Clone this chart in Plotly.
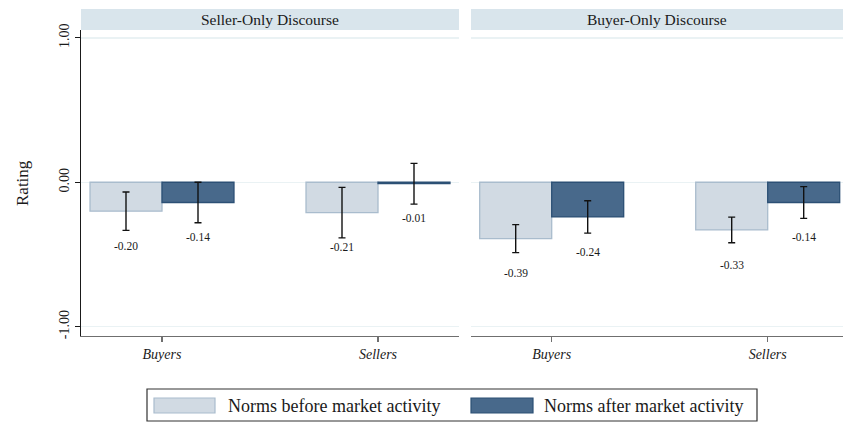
import plotly.graph_objects as go

# ---------------- data ----------------
groups = ["Buyers", "Sellers"]
panels = ["Seller-Only Discourse", "Buyer-Only Discourse"]
series = ["Norms before market activity", "Norms after market activity"]

seller_only_before = [-0.20, -0.21]
seller_only_after = [-0.14, -0.01]
seller_only_before_err = [0.133, 0.175]
seller_only_after_err = [0.140, 0.141]

buyer_only_before = [-0.39, -0.33]
buyer_only_after = [-0.24, -0.14]
buyer_only_before_err = [0.097, 0.089]
buyer_only_after_err = [0.112, 0.110]

y_ticks = [-1.0, 0.0, 1.0]
y_tick_labels = ["-1.00", "0.00", "1.00"]

# ---------------- style ----------------
W, H = 843, 424
FONT = "Liberation Serif, Times New Roman, serif"
TXT = "#1a1a1a"
fill_colors = ["#d1dae3", "#48698b"]
line_colors = ["#a9bccd", "#2c5075"]
header_fill = "#d9e5ec"
grid_col = "#eaf2f4"


def px_x(p):
    return p / W


def px_y(p):
    return 1 - p / H


fig = go.Figure()

panel_data = [
    (seller_only_before, seller_only_after, seller_only_before_err, seller_only_after_err),
    (buyer_only_before, buyer_only_after, buyer_only_before_err, buyer_only_after_err),
]

annotations = []
for pi, (bef, aft, bef_e, aft_e) in enumerate(panel_data):
    xa = "x" if pi == 0 else "x2"
    ya = "y" if pi == 0 else "y2"
    for si, (vals, errs) in enumerate([(bef, bef_e), (aft, aft_e)]):
        fig.add_trace(go.Bar(
            x=groups, y=vals, name=series[si], xaxis=xa, yaxis=ya,
            offsetgroup=str(si), showlegend=False,
            marker=dict(color=fill_colors[si], line=dict(color=line_colors[si], width=1.3)),
            error_y=dict(type="data", array=errs, visible=True, color="#111111",
                         thickness=1.4, width=3.5),
            hoverinfo="skip",
        ))
        shift = -36 if si == 0 else 36
        for g, v in zip(groups, vals):
            annotations.append(dict(
                x=g, y=v - 0.24, xref=xa, yref=ya, xshift=shift,
                xanchor="center", yanchor="middle",
                text=f"{v:.2f}", showarrow=False,
                font=dict(family=FONT, size=11.5, color=TXT),
            ))

plot_top, plot_bot = 30, 335.7
ydom = [px_y(plot_bot), px_y(plot_top)]
yrange = [-1.062, 1.054]

axis_x_common = dict(
    type="category", showline=True, linecolor="#6f6f6f", linewidth=1.5,
    ticks="outside", ticklen=5, tickcolor="#6f6f6f", tickwidth=1.2,
    tickfont=dict(family=FONT, size=14, color=TXT, style="italic"),
    showgrid=False, zeroline=False, fixedrange=True, automargin=False,
)

fig.update_layout(
    width=W, height=H,
    margin=dict(l=0, r=0, t=0, b=0, autoexpand=False),
    paper_bgcolor="white", plot_bgcolor="white",
    barmode="group", bargap=0.3334, bargroupgap=0,
    showlegend=False,
    xaxis=dict(domain=[px_x(81), px_x(459)], range=[-0.375, 1.375], anchor="y", **axis_x_common),
    xaxis2=dict(domain=[px_x(471), 1.0], range=[-0.3736, 1.3486], anchor="y2", **axis_x_common),
    yaxis=dict(
        domain=ydom, range=yrange, anchor="x", automargin=False,
        tickvals=y_ticks, ticktext=y_tick_labels, tickangle=-90,
        tickfont=dict(family=FONT, size=14, color=TXT),
        showline=True, linecolor="#1a1a1a", linewidth=1.3,
        ticks="outside", ticklen=5, tickcolor="#1a1a1a", tickwidth=1.2,
        showgrid=True, gridcolor=grid_col, gridwidth=1.5, zeroline=False,
        fixedrange=True,
    ),
    yaxis2=dict(
        domain=ydom, range=yrange, anchor="x2", matches="y", automargin=False,
        tickvals=y_ticks, showticklabels=False, ticks="",
        showline=False, showgrid=True, gridcolor=grid_col, gridwidth=1.5, zeroline=False,
    ),
)

shapes = []
# panel headers
header_spans = [(81, 459), (471, W)]
for (x0, x1), title in zip(header_spans, panels):
    shapes.append(dict(type="rect", xref="paper", yref="paper",
                       x0=px_x(x0), x1=px_x(x1), y0=px_y(30), y1=px_y(9),
                       fillcolor=header_fill, line=dict(width=0), layer="below"))
    annotations.append(dict(x=px_x((x0 + x1) / 2), y=px_y(19.5), xref="paper", yref="paper",
                            xanchor="center", yanchor="middle",
                            text=title, showarrow=False,
                            font=dict(family=FONT, size=15.5, color=TXT)))

# y title
annotations.append(dict(x=px_x(22), y=px_y(183), xref="paper", yref="paper",
                        xanchor="center", yanchor="middle",
                        text="Rating", textangle=-90, showarrow=False,
                        font=dict(family=FONT, size=17, color=TXT)))

# legend (manual, to match wide swatches)
shapes.append(dict(type="rect", xref="paper", yref="paper",
                   x0=px_x(147), x1=px_x(757), y0=px_y(421), y1=px_y(389),
                   fillcolor="white", line=dict(color="#333333", width=1.2)))
swatches = [(154, 215, 226), (471, 533, 542)]
for si, (sx0, sx1, tx) in enumerate(swatches):
    shapes.append(dict(type="rect", xref="paper", yref="paper",
                       x0=px_x(sx0), x1=px_x(sx1), y0=px_y(413), y1=px_y(398),
                       fillcolor=fill_colors[si], line=dict(color=line_colors[si], width=1.2)))
    annotations.append(dict(x=px_x(tx), y=px_y(405.5), xref="paper", yref="paper",
                            xanchor="left", yanchor="middle", text=series[si], showarrow=False,
                            font=dict(family=FONT, size=18, color=TXT)))

fig.update_layout(shapes=shapes, annotations=annotations)

fig.write_html(
    "out.html",
    config={"displayModeBar": False, "staticPlot": True},
    post_script="document.body.style.margin='0';document.body.style.padding='0';"
                "document.documentElement.style.overflow='hidden';",
)
